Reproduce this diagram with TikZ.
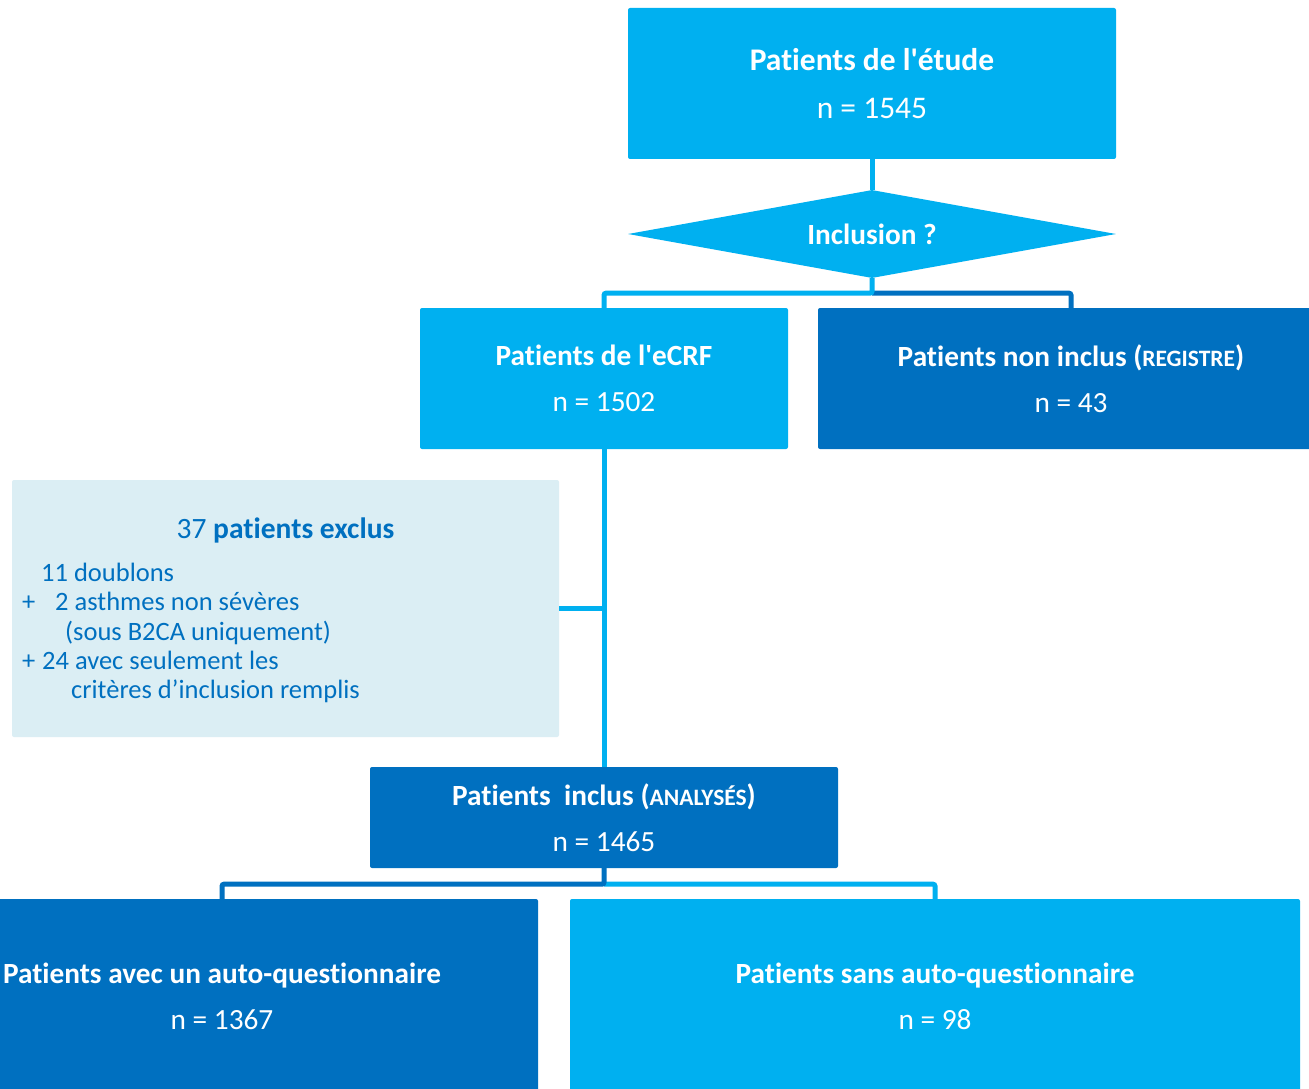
\documentclass[tikz,border=0pt]{standalone}
\usepackage{fontspec}
\newfontfamily\calib{Carlito}[Ligatures=NoCommon]
\usetikzlibrary{shapes.geometric,calc}
\definecolor{lb}{HTML}{00B0F0}
\definecolor{db}{HTML}{0070C0}
\definecolor{pb}{HTML}{DBEEF4}
\newcommand\smcap[1]{{\fontsize{23.5}{23.5}\selectfont #1}}
\begin{document}
\calib
\begin{tikzpicture}[x=1pt,y=-1pt,
  box/.style={rectangle, rounded corners=2pt, inner sep=0pt, text=white, align=center, font=\calib\fontsize{29.3}{46}\selectfont},
  conn/.style={line width=5pt, rounded corners=2pt}]
\useasboundingbox (0,0) rectangle (1309,1089);
\clip (0,0) rectangle (1309,1089);
\fill[white] (0,0) rectangle (1309,1089);

\node[box, fill=lb, minimum width=488pt, minimum height=151pt, font=\calib\fontsize{31.5}{48}\selectfont] (top) at (872,83.5) {\textbf{Patients de l'étude}\\n = 1545};
\node[diamond, fill=lb, minimum width=488pt, minimum height=88pt, inner sep=0pt, aspect=5.5, text=white, font=\calib\fontsize{29.3}{46}\selectfont] (dia) at (872,234) {\textbf{Inclusion ?}};
\node[box, fill=lb, minimum width=368pt, minimum height=141pt] (ecrf) at (604,378.5) {\textbf{Patients de l'eCRF}\\n = 1502};
\node[box, fill=db, minimum width=506pt, minimum height=141pt] (noninc) at (1071,378.5) {\textbf{Patients non inclus (\smcap{REGISTRE})}\\n = 43};
\node[rectangle, rounded corners=2pt, fill=pb, minimum width=547pt, minimum height=257pt, inner sep=0pt] (excl) at (285.5,608.5) {};
\node[text=db, font=\calib\fontsize{29.5}{29.5}\selectfont, inner sep=0pt] (exclt) at (285.5,530) {37 \textbf{patients exclus}};
\node[text=db, font=\calib\fontsize{26.5}{29.3}\selectfont, inner sep=0pt, align=left, anchor=north west] (exclb) at (22,563) {%
\hspace*{19pt}11 doublons\\
\makebox[33pt][l]{+}2 asthmes non sévères\\
\hspace*{43pt}(sous B2CA uniquement)\\
\makebox[20pt][l]{+}24 avec seulement les\\
\hspace*{49pt}critères d’inclusion remplis};
\node[box, fill=db, minimum width=468pt, minimum height=101pt] (inc) at (604,817.5) {\textbf{Patients\ \ inclus (\smcap{ANALYSÉS})}\\n = 1465};
\node[box, fill=db, minimum width=632pt, minimum height=194pt] (bl) at (222,996) {\textbf{Patients avec un auto-questionnaire}\\n = 1367};
\node[box, fill=lb, minimum width=730pt, minimum height=194pt] (br) at (935,996) {\textbf{Patients sans auto-questionnaire}\\n = 98};

\coordinate (j1) at ($(dia.south)+(0,15)$);
\coordinate (j2) at ($(inc.south)+(0,16)$);
\draw[conn, lb] (top.south) -- (dia.north);
\draw[conn, db] (j1) -| (noninc.north);
\draw[conn, lb] (dia.south) -- (j1) -| (ecrf.north);
\draw[conn, lb] (ecrf.south) -- (inc.north);
\draw[conn, lb] (excl.east) -- (excl.east -| ecrf.south);
\draw[conn, lb] (j2) -| (br.north);
\draw[conn, db] (inc.south) -- (j2) -| (bl.north);
\end{tikzpicture}
\end{document}
